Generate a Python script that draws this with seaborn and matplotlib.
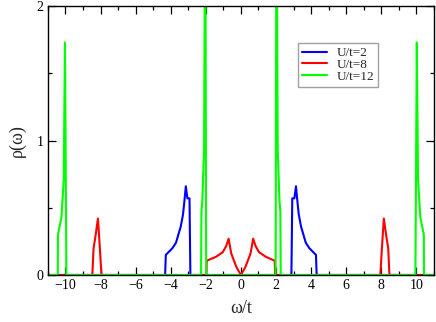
import matplotlib
matplotlib.use("Agg")
import matplotlib.pyplot as plt
import seaborn as sns
import pandas as pd
from matplotlib.ticker import MultipleLocator

# ---- data ----
labels = ["U/t=2", "U/t=8", "U/t=12"]
colors = ["#0000ff", "#ff0000", "#00ff00"]

u2_x = [-11.0, -4.32, -4.28, -4.2, -3.9, -3.7, -3.43, -3.3, -3.22, -3.14, -3.05, -2.93, -2.88,
        2.88, 2.93, 3.05, 3.14, 3.22, 3.3, 3.43, 3.7, 3.9, 4.2, 4.28, 4.32, 11.0]
u2_y = [0.0, 0.0, 0.15, 0.16, 0.20, 0.24, 0.36, 0.45, 0.55, 0.66, 0.57, 0.57, 0.0,
        0.0, 0.57, 0.57, 0.66, 0.55, 0.45, 0.36, 0.24, 0.20, 0.16, 0.15, 0.0, 0.0]

u8_x = [-11.0, -8.47, -8.4, -8.3, -8.15, -8.05, -7.95,
        -1.97, -1.95, -1.41, -1.03, -0.84, -0.70, -0.55, -0.26, 0.0,
        0.26, 0.55, 0.70, 0.84, 1.03, 1.41, 1.93, 1.95,
        7.95, 8.05, 8.15, 8.3, 8.4, 8.47, 11.0]
u8_y = [0.0, 0.0, 0.20, 0.28, 0.42, 0.22, 0.0,
        0.0, 0.106, 0.136, 0.17, 0.215, 0.27, 0.16, 0.06, 0.0,
        0.06, 0.16, 0.27, 0.215, 0.17, 0.136, 0.106, 0.0,
        0.0, 0.22, 0.42, 0.28, 0.20, 0.0, 0.0]

u12_x = [-11.0, -10.44, -10.43, -10.23, -10.1, -10.03, -9.95,
         -2.27, -2.25, -2.2, -2.1, -2.03, -1.98,
         1.98, 2.03, 2.1, 2.2, 2.25, 2.27,
         9.95, 10.03, 10.1, 10.23, 10.43, 10.44, 11.0]
u12_y = [0.0, 0.0, 0.30, 0.43, 0.71, 1.73, 0.0,
         0.0, 0.47, 0.55, 0.93, 3.0, 0.0,
         0.0, 3.0, 0.93, 0.55, 0.47, 0.0,
         0.0, 1.73, 0.71, 0.43, 0.30, 0.0, 0.0]

xs = [u2_x, u8_x, u12_x]
ys = [u2_y, u8_y, u12_y]

frames = []
for lab, x, y in zip(labels, xs, ys):
    frames.append(pd.DataFrame({"omega": x, "rho": y, "series": lab}))
df = pd.concat(frames, ignore_index=True)

# ---- plot ----
sns.set_theme(style="ticks")
plt.rcParams["font.family"] = ["Liberation Serif", "DejaVu Serif"]
plt.rcParams["mathtext.fontset"] = "stix"

fig = plt.figure(figsize=(4.36, 3.22), dpi=100)
ax = fig.add_axes([0.110, 0.146, 0.885, 0.835])

sns.lineplot(data=df, x="omega", y="rho", hue="series", hue_order=labels,
             palette=dict(zip(labels, colors)), estimator=None, sort=False,
             linewidth=1.5, ax=ax)

ax.set_xlim(-11, 11)
ax.set_ylim(0, 2)
ax.xaxis.set_major_locator(MultipleLocator(2))
ax.xaxis.set_minor_locator(MultipleLocator(1))
ax.yaxis.set_major_locator(MultipleLocator(1))
ax.yaxis.set_minor_locator(MultipleLocator(0.5))
ax.tick_params(which="both", direction="in", top=True, right=True,
               labelsize=10, width=0.9, colors="black", pad=3)
ax.tick_params(which="major", length=6)
ax.tick_params(which="minor", length=3)
for s in ax.spines.values():
    s.set_linewidth(1.0)
    s.set_color("black")

ax.set_xlabel("ω/t", fontsize=13, labelpad=6)
ax.set_ylabel("ρ(ω)", fontsize=13, labelpad=8)

handles, labs = ax.get_legend_handles_labels()
leg = ax.legend(handles, labs, loc="upper left", bbox_to_anchor=(0.648, 0.862),
                fontsize=9.5, frameon=True, fancybox=False, borderpad=0.3,
                handlelength=1.9, handletextpad=0.7, labelspacing=-0.05,
                borderaxespad=0.0)
leg.get_frame().set_edgecolor("#888888")
leg.get_frame().set_linewidth(1.0)
for line in leg.get_lines():
    line.set_linewidth(1.5)

fig.savefig("out.png", dpi=100)
